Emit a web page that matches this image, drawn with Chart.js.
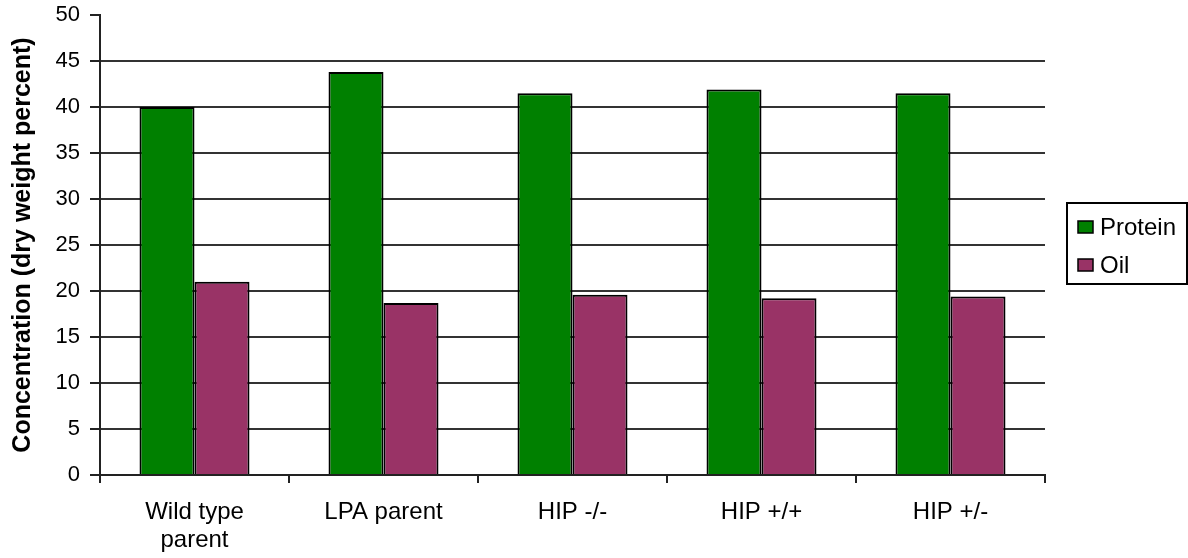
<!DOCTYPE html>
<html>
<head>
<meta charset="utf-8">
<title>Protein and oil concentration</title>
<script src="https://cdn.jsdelivr.net/npm/chart.js@4.4.1/dist/chart.umd.min.js"></script>
<style>
  html, body { margin: 0; padding: 0; background: #fff; }
  #wrap { width: 1188px; height: 558px; }
</style>
</head>
<body>
<div id="wrap"><canvas id="c" width="1188" height="558"></canvas></div>
<script>
// Seed lines and their measured composition (dry weight percent)
const categories = [['Wild type', 'parent'], 'LPA parent', 'HIP -/-', 'HIP +/+', 'HIP +/-'];
const protein = [40.0, 43.8, 41.5, 41.9, 41.5];
const oil = [21.0, 18.7, 19.6, 19.2, 19.4];
const seriesNames = ['Protein', 'Oil'];
const yTicks = [0, 5, 10, 15, 20, 25, 30, 35, 40, 45, 50];
const axisTitle = 'Concentration (dry weight percent)';

const GREEN = '#008000';
const PLUM = '#993366';
const FONT = '"Liberation Sans", Arial, sans-serif';

// Boxed legend drawn at the right of the plot
const boxLegend = {
  id: 'boxLegend',
  afterDraw(chart) {
    const ctx = chart.ctx;
    const x0 = 1067, y0 = 203, w = 120, h = 81;
    ctx.save();
    ctx.strokeStyle = '#000';
    ctx.lineWidth = 2;
    ctx.strokeRect(x0, y0, w, h);
    ctx.font = '24px ' + FONT;
    ctx.textBaseline = 'middle';
    ctx.textAlign = 'left';
    chart.data.datasets.forEach((ds, i) => {
      const cy = 227 + i * 38;
      ctx.fillStyle = ds.backgroundColor;
      ctx.fillRect(1078, cy - 6, 15, 12);
      ctx.lineWidth = 1.5;
      ctx.strokeStyle = '#000';
      ctx.strokeRect(1078, cy - 6, 15, 12);
      ctx.fillStyle = '#000';
      ctx.fillText(ds.label, 1100, cy + 1);
    });
    ctx.restore();
  }
};

new Chart(document.getElementById('c'), {
  type: 'bar',
  data: {
    labels: categories,
    datasets: [
      { label: seriesNames[0], data: protein, backgroundColor: GREEN, borderColor: '#000', borderWidth: 2, borderSkipped: 'bottom' },
      { label: seriesNames[1], data: oil, backgroundColor: PLUM, borderColor: '#000', borderWidth: 2, borderSkipped: 'bottom' }
    ]
  },
  options: {
    responsive: false,
    animation: false,
    events: [],
    layout: { padding: { left: 0, right: 143, top: 15, bottom: 0 } },
    datasets: { bar: { categoryPercentage: 0.582, barPercentage: 1.0 } },
    plugins: { legend: { display: false }, tooltip: { enabled: false } },
    scales: {
      x: {
        offset: true,
        grid: {
          offset: true,
          drawOnChartArea: false,
          drawTicks: true,
          tickLength: 8,
          color: '#222',
          lineWidth: 2
        },
        border: { color: '#222', width: 2 },
        ticks: {
          color: '#000',
          font: { family: FONT, size: 24, lineHeight: 1.15 },
          padding: 16,
          maxRotation: 0,
          autoSkip: false
        },
        afterFit(scale) { scale.height = 83; }
      },
      y: {
        min: 0,
        max: 50,
        afterBuildTicks(scale) { scale.ticks = yTicks.map(v => ({ value: v })); },
        grid: {
          color: ctx => (ctx.tick && ctx.tick.value === 50 ? 'rgba(0,0,0,0)' : '#333'),
          tickColor: '#222',
          lineWidth: 2,
          drawTicks: true,
          tickLength: 10
        },
        border: { color: '#222', width: 2 },
        ticks: {
          color: '#000',
          font: { family: FONT, size: 22 },
          padding: 10
        },
        title: {
          display: true,
          text: axisTitle,
          color: '#000',
          font: { family: FONT, size: 25, weight: 'bold' },
          padding: { top: 8, bottom: 0 }
        },
        afterFit(scale) {
          scale.width = 100;
          scale.paddingTop = 0;
          scale.paddingBottom = 0;
        }
      }
    }
  },
  plugins: [boxLegend]
});
</script>
</body>
</html>
